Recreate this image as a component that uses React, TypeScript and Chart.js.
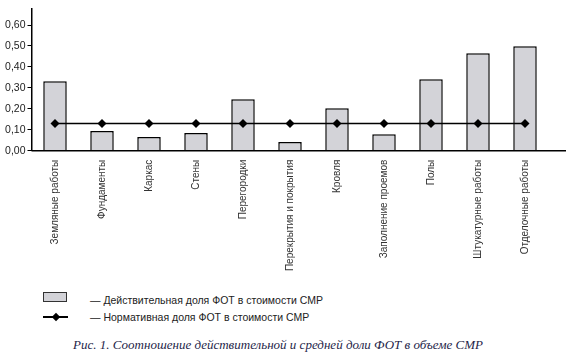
import React, { useEffect, useRef } from "react";
import { Chart, registerables } from "chart.js";

Chart.register(...registerables);

const categories = [
  "Земляные работы",
  "Фундаменты",
  "Каркас",
  "Стены",
  "Перегородки",
  "Перекрытия и покрытия",
  "Кровля",
  "Заполнение проемов",
  "Полы",
  "Штукатурные работы",
  "Отделочные работы",
];
const actualShare = [0.332, 0.094, 0.065, 0.084, 0.246, 0.041, 0.203, 0.079, 0.341, 0.465, 0.499];
const normativeShare = [0.13, 0.13, 0.13, 0.13, 0.13, 0.13, 0.13, 0.13, 0.13, 0.13, 0.13];
const yTickValues = [0, 0.1, 0.2, 0.3, 0.4, 0.5, 0.6];
const legendActual = "— Действительная доля ФОТ в стоимости СМР";
const legendNormative = "— Нормативная доля ФОТ в стоимости СМР";
const caption = "Рис. 1. Соотношение действительной и средней доли ФОТ в объеме СМР";

const FONT = "'Liberation Sans', Arial, sans-serif";

const axisExtend = {
  id: "axisExtend",
  afterDatasetsDraw(chart: any) {
    const { ctx, chartArea } = chart;
    const y = chart.scales.y.getPixelForValue(0);
    ctx.save();
    ctx.strokeStyle = "#000";
    ctx.lineWidth = 1.5;
    ctx.beginPath();
    ctx.moveTo(chartArea.left, y);
    ctx.lineTo(566, y);
    ctx.stroke();
    ctx.restore();
  },
};

export default function App() {
  const ref = useRef<HTMLCanvasElement | null>(null);
  useEffect(() => {
    if (!ref.current) return;
    const chart = new Chart(ref.current, {
      type: "bar",
      data: {
        labels: categories,
        datasets: [
          {
            type: "line",
            label: "Нормативная",
            data: normativeShare,
            borderColor: "#000",
            backgroundColor: "#000",
            borderWidth: 1.5,
            pointStyle: "rectRot",
            pointRadius: 4.5,
            pointBorderWidth: 0,
            order: 0,
          } as any,
          {
            type: "bar",
            label: "Действительная",
            data: actualShare,
            backgroundColor: "#d3d3d8",
            borderColor: "#000",
            borderWidth: 1.5,
            barPercentage: 0.5,
            categoryPercentage: 1,
            order: 1,
          },
        ],
      },
      options: {
        responsive: false,
        animation: false,
        layout: { padding: { top: 8, right: 21.5, left: 0, bottom: 0 } },
        plugins: { legend: { display: false }, tooltip: { enabled: false } },
        scales: {
          x: {
            offset: true,
            grid: { display: false, drawTicks: false },
            border: { display: false },
            ticks: {
              autoSkip: false,
              minRotation: 90,
              maxRotation: 90,
              padding: 9,
              color: "#333",
              font: { family: FONT, size: 10 },
            },
            afterFit(scale: any) {
              scale.height = 285 - 150.7;
            },
          },
          y: {
            min: 0,
            max: 0.68,
            afterBuildTicks(scale: any) {
              scale.ticks = yTickValues.map((v) => ({ value: v }));
            },
            afterFit(scale: any) {
              scale.width = 31.5;
            },
            grid: {
              display: true,
              drawOnChartArea: false,
              drawTicks: true,
              tickLength: 4,
              color: "#000",
              lineWidth: 1,
            },
            border: { display: true, color: "#000", width: 1.5 },
            ticks: {
              padding: 2,
              color: "#222",
              font: { family: FONT, size: 10.5 },
              callback: (v: any) => Number(v).toFixed(2).replace(".", ","),
            },
          },
        },
      },
      plugins: [axisExtend],
    });
    return () => chart.destroy();
  }, []);

  const textStyle: React.CSSProperties = {
    position: "absolute",
    left: 90,
    fontFamily: FONT,
    fontSize: 10.5,
    color: "#222",
    lineHeight: "12px",
    whiteSpace: "nowrap",
  };

  return (
    <div style={{ position: "absolute", left: 0, top: 0, width: 570, height: 357, background: "#fff" }}>
      <canvas ref={ref} width={570} height={285} style={{ position: "absolute", left: 0, top: 0 }} />
      <div
        style={{
          position: "absolute",
          left: 43,
          top: 292,
          width: 22,
          height: 8,
          background: "#d3d3d8",
          border: "1px solid #333",
        }}
      />
      <div style={{ ...textStyle, top: 294 }}>{legendActual}</div>
      <div style={{ position: "absolute", left: 43, top: 316, width: 25, height: 1.5, background: "#000" }} />
      <div
        style={{
          position: "absolute",
          left: 52.5,
          top: 314,
          width: 6,
          height: 6,
          background: "#000",
          transform: "rotate(45deg)",
        }}
      />
      <div style={{ ...textStyle, top: 311 }}>{legendNormative}</div>
      <div
        style={{
          position: "absolute",
          left: 0,
          width: 556,
          top: 337,
          textAlign: "center",
          fontFamily: "'Liberation Serif', 'Times New Roman', serif",
          fontStyle: "italic",
          fontSize: 13,
          color: "#1f1f4a",
          lineHeight: "16px",
          whiteSpace: "nowrap",
        }}
      >
        {caption}
      </div>
    </div>
  );
}
